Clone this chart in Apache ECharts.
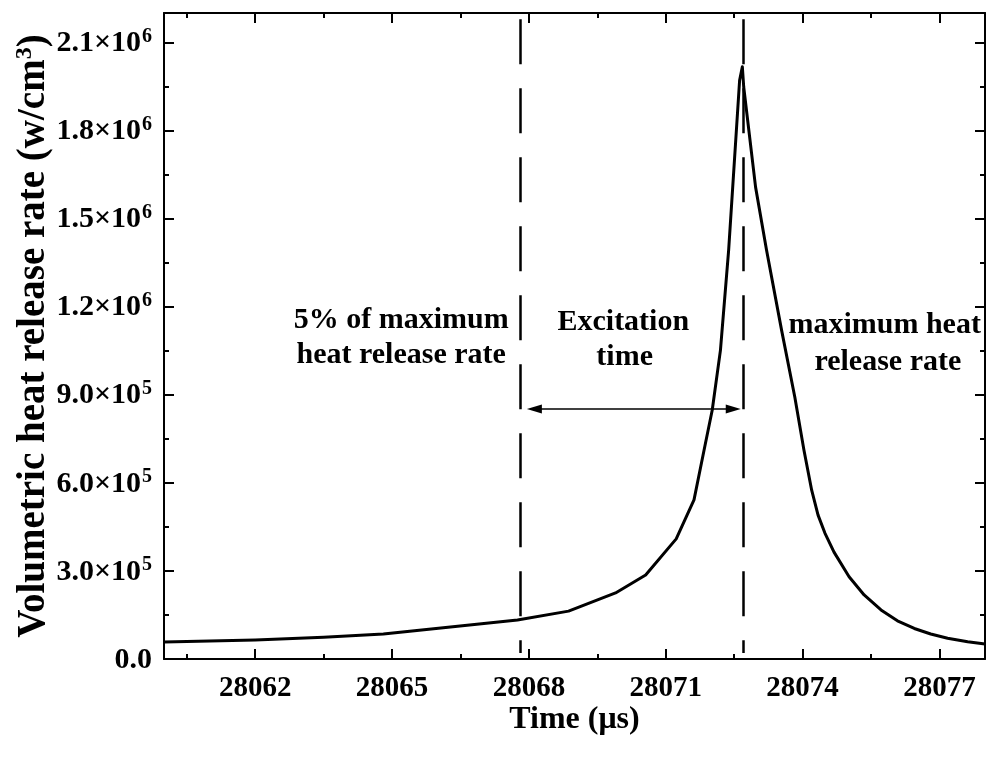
<!DOCTYPE html>
<html>
<head>
<meta charset="utf-8">
<script src="https://cdn.jsdelivr.net/npm/echarts@6/dist/echarts.min.js"></script>
<style>html,body{margin:0;padding:0;background:#fff;}#c{width:989px;height:761px;}</style>
</head>
<body>
<div id="c"></div>
<script>
// ---- data ----
const timeUs = [28060, 28062, 28063.5, 28064.81, 28067.75, 28068.87, 28069.9, 28070.56, 28071.23, 28071.62, 28071.87, 28072.02, 28072.2, 28072.38, 28072.62, 28072.68, 28072.71, 28072.97, 28073.21, 28073.54, 28073.83, 28074.03, 28074.2, 28074.34, 28074.49, 28074.69, 28075.02, 28075.35, 28075.72, 28076.08, 28076.45, 28076.81, 28077.18, 28077.62, 28078.0];
const heatRate = [58000, 65000, 74000, 85000, 133000, 163000, 225000, 286000, 409000, 542000, 734000, 848000, 1052000, 1393000, 1971000, 2017000, 1948000, 1607000, 1393000, 1120000, 892000, 712000, 575000, 490000, 429000, 364000, 280000, 218000, 167000, 130000, 104000, 85000, 70500, 59000, 51000];

const xMajorTicks = [28062, 28065, 28068, 28071, 28074, 28077];
const xMinorTicks = [28060.5, 28063.5, 28066.5, 28069.5, 28072.5, 28075.5];
const yMajorTicks = [0, 300000, 600000, 900000, 1200000, 1500000, 1800000, 2100000];
const yMinorTicks = [150000, 450000, 750000, 1050000, 1350000, 1650000, 1950000];
const yTickMantissa = ['0.0', '3.0', '6.0', '9.0', '1.2', '1.5', '1.8', '2.1'];
const yTickExponent = ['', '5', '5', '5', '6', '6', '6', '6'];

const startTime = 28067.8;   // 5% of maximum heat release rate
const peakTime = 28072.69;   // maximum heat release rate
const arrowLevel = 851000;
const arrowFrom = 28068.12;
const arrowTo = 28072.48;
const dashTop = 2179000;
const dashBottom = 20400;

const annotations = [
  { text: '5% of maximum', x: 28065.2, y: 1154000 },
  { text: 'heat release rate', x: 28065.2, y: 1035000 },
  { text: 'Excitation', x: 28070.07, y: 1147000 },
  { text: 'time', x: 28070.1, y: 1028000 },
  { text: 'maximum heat', x: 28075.8, y: 1137000 },
  { text: 'release rate', x: 28075.87, y: 1011000 }
];

// ---- chart ----
const FONT = 'Liberation Serif';
const chart = echarts.init(document.getElementById('c'), null, { renderer: 'canvas' });

function xAxisDef(pos, major, withLabel) {
  const a = {
    type: 'value', min: 28060, max: 28078, position: pos, gridIndex: 0,
    splitLine: { show: false },
    axisLine: { show: major, onZero: false, lineStyle: { color: '#000', width: 2 } },
    axisTick: { show: true, inside: true, length: major ? 10 : 5, lineStyle: { color: '#000', width: 2 },
      customValues: major ? xMajorTicks : xMinorTicks },
    axisLabel: { show: false }
  };
  if (withLabel) {
    a.axisLabel = { show: true, customValues: xMajorTicks, margin: 15,
      fontFamily: FONT, fontWeight: 'bold', fontSize: 29, color: '#000',
      formatter: v => String(v) };
    a.name = 'Time (μs)';
    a.nameLocation = 'middle';
    a.nameGap = 45;
    a.nameMoveOverlap = false;
    a.nameTextStyle = { fontFamily: FONT, fontWeight: 'bold', fontSize: 32, color: '#000' };
  }
  return a;
}
function yAxisDef(pos, major, withLabel) {
  const a = {
    type: 'value', min: 0, max: 2200000, position: pos, gridIndex: 0,
    splitLine: { show: false },
    axisLine: { show: major, onZero: false, lineStyle: { color: '#000', width: 2 } },
    axisTick: { show: true, inside: true, length: major ? 10 : 5, lineStyle: { color: '#000', width: 2 },
      customValues: major ? yMajorTicks : yMinorTicks },
    axisLabel: { show: false }
  };
  if (withLabel) {
    a.axisLabel = { show: true, customValues: yMajorTicks, margin: 12,
      formatter: function (v) {
        const i = yMajorTicks.indexOf(v);
        if (i < 0) return '';
        if (!yTickExponent[i]) return '{m|' + yTickMantissa[i] + '}';
        return '{m|' + yTickMantissa[i] + '×10}{s|' + yTickExponent[i] + '}';
      },
      rich: {
        m: { fontFamily: FONT, fontWeight: 'bold', fontSize: 30, color: '#000', lineHeight: 32, verticalAlign: 'bottom' },
        s: { fontFamily: FONT, fontWeight: 'bold', fontSize: 20, color: '#000', lineHeight: 18, verticalAlign: 'top', padding: [0, 0, 0, 1] }
      }
    };
    a.name = '{n|Volumetric heat release rate (w/cm}{s|3}{n|)}';
    a.nameLocation = 'middle';
    a.nameGap = 111;
    a.nameMoveOverlap = false;
    a.nameTextStyle = {
      rich: {
        n: { fontFamily: FONT, fontWeight: 'bold', fontSize: 39, color: '#000', lineHeight: 40, verticalAlign: 'bottom' },
        s: { fontFamily: FONT, fontWeight: 'bold', fontSize: 24, color: '#000', lineHeight: 22, verticalAlign: 'top' }
      }
    };
  }
  return a;
}

const option = {
  animation: false,
  backgroundColor: '#fff',
  grid: { left: 164, right: 4, top: 13, bottom: 102, containLabel: false, outerBoundsMode: 'none' },
  xAxis: [xAxisDef('bottom', true, true), xAxisDef('bottom', false, false), xAxisDef('top', true, false), xAxisDef('top', false, false)],
  yAxis: [yAxisDef('left', true, true), yAxisDef('left', false, false), yAxisDef('right', true, false), yAxisDef('right', false, false)],
  series: [
    {
      type: 'line', xAxisIndex: 0, yAxisIndex: 0,
      data: timeUs.map((t, i) => [t, heatRate[i]]),
      showSymbol: false, symbol: 'none', smooth: false,
      lineStyle: { color: '#000', width: 3, join: 'round' },
      z: 3,
      markLine: {
        silent: true, symbol: 'none',
        label: { show: false },
        lineStyle: { color: '#000', width: 2.5, type: [45, 24] },
        data: [
          [{ coord: [startTime, dashTop] }, { coord: [startTime, dashBottom] }],
          [{ coord: [peakTime, dashTop] }, { coord: [peakTime, dashBottom] }]
        ]
      }
    },
    {
      type: 'line', xAxisIndex: 0, yAxisIndex: 0, data: [],
      markLine: {
        silent: true, symbol: ['triangle', 'triangle'], symbolSize: [9, 15],
        label: { show: false },
        lineStyle: { color: '#000', width: 1.6, type: 'solid' },
        data: [[{ coord: [arrowFrom, arrowLevel] }, { coord: [arrowTo, arrowLevel] }]]
      },
      markPoint: {
        silent: true, symbol: 'circle', symbolSize: 0,
        label: { show: true, position: 'inside', color: '#000', fontFamily: FONT, fontWeight: 'bold', fontSize: 30,
          formatter: p => p.name },
        data: annotations.map(a => ({ name: a.text, coord: [a.x, a.y] }))
      }
    }
  ]
};
chart.setOption(option);
</script>
</body>
</html>
